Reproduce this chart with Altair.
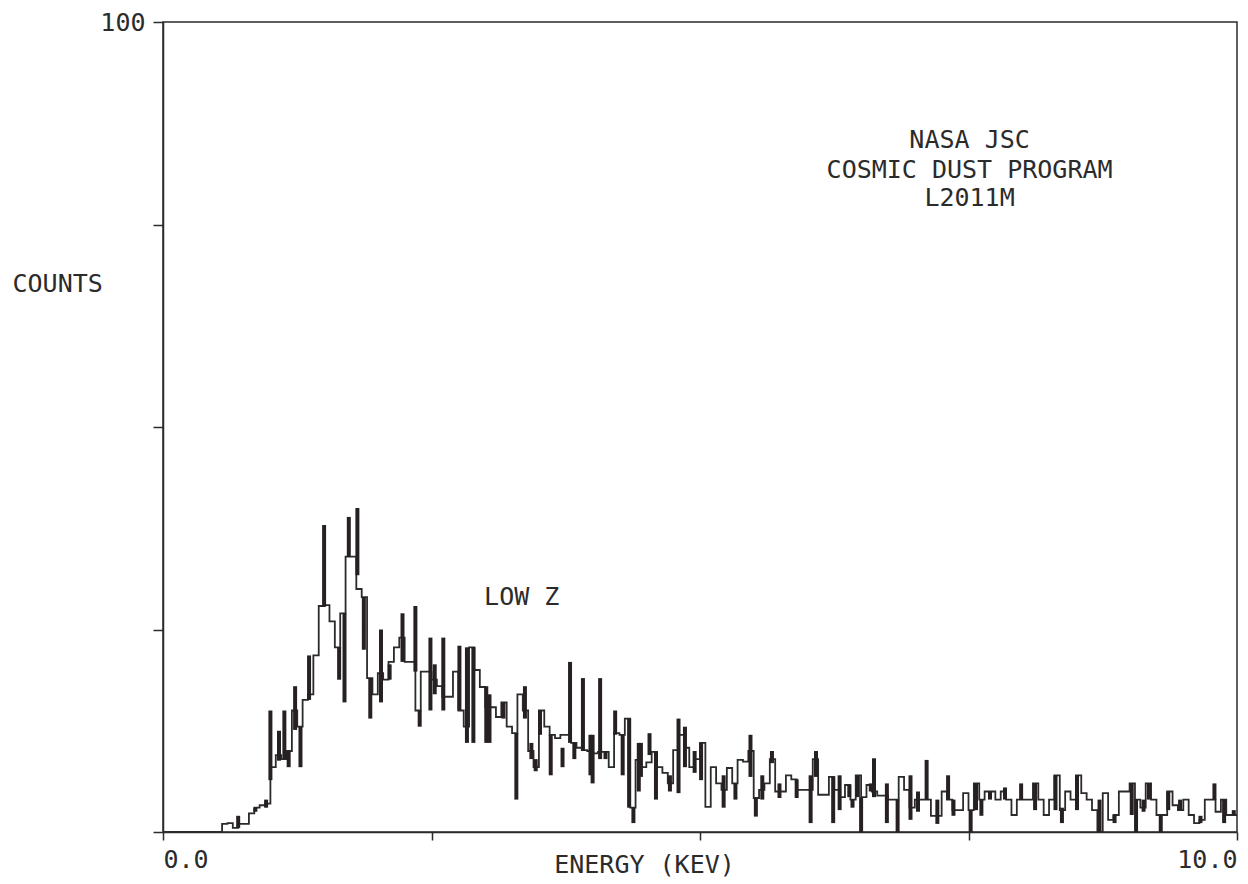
import altair as alt
import pandas as pd

FONT = "DejaVu Sans Mono"
INK = "#2b2b2b"

# Spectrum: counts per 0.05 keV bin, starting at 0.00 keV
BIN_KEV = 0.05
COUNTS = [
    0, 0, 0, 0, 0, 0, 0, 0, 0, 0,
    0, 1, 1.1, 0.5, 1, 1, 2.3, 3, 3.3, 3.5,
    8, 9.5, 9, 10, 15, 13, 16.3, 17, 21.8, 27.9,
    28, 26, 22.8, 27, 34, 34, 30, 29, 19, 17,
    19.6, 18.8, 21, 22.8, 24, 21, 21, 15, 19.8, 19.8,
    18.8, 18, 16.7, 16.7, 19.8, 15, 13, 22.8, 20, 17.9,
    15.4, 15.4, 14.2, 16, 13, 12.2, 17, 15, 10, 8,
    15, 13, 12, 11.6, 12, 12, 11, 10.4, 10.1, 10,
    9.7, 9.9, 9.9, 8, 12.2, 12, 14, 3, 8.9, 8,
    8.6, 9.9, 8, 7.3, 6, 10.1, 12, 10.4, 8, 9,
    11, 3.1, 8, 6, 5.2, 7.9, 6, 8.9, 8.7, 10,
    4.2, 5.2, 6, 9, 5, 5, 7, 6.5, 5.2, 5.2,
    5.2, 9, 4.6, 4.6, 6.8, 5.2, 4.3, 5.8, 4, 7,
    4.3, 5.8, 5, 4.5, 4.5, 4, 4, 6.8, 5.2, 3,
    4, 4, 4, 2, 2, 5, 4, 2.7, 2.7, 4.8,
    2.7, 6, 4, 5, 5, 4, 5, 4, 2.1, 4,
    4, 4, 6, 4, 2.1, 4, 7, 2.7, 5, 4,
    7, 4.8, 4, 2.7, 0, 4.8, 1.5, 2.1, 5, 5,
    6, 4, 3, 6, 4, 2.1, 2.1, 5, 3.3, 2.7,
    4, 2.1, 1.1, 1.5, 4, 4, 2.5, 4, 2.1, 2.1,
]

# Channel-to-channel jitter (dense dark strokes): energy, low and high counts
SPIKE_E = [0.70, 0.86, 0.96, 1.00, 1.08, 1.13, 1.17, 1.23, 1.28, 1.36,
           1.50, 1.64, 1.69, 1.73, 1.81, 1.87, 1.93, 2.03, 2.11, 2.23,
           2.35, 2.39, 2.49, 2.53, 2.61, 2.76, 2.83, 2.89, 3.01, 3.04,
           3.17, 3.29, 3.37, 3.43, 3.47, 3.51, 3.61, 3.72, 3.79, 3.83,
           3.91, 3.98, 4.00, 4.07, 4.12, 4.21, 4.28, 4.34, 4.38, 4.43,
           4.45, 4.53, 4.59, 4.72, 4.80, 4.86, 4.95, 5.01, 5.22, 5.33,
           5.47, 5.52, 5.58, 5.67, 5.74, 5.90, 6.03, 6.08, 6.24, 6.30,
           6.39, 6.42, 6.47, 6.50, 6.59, 6.62, 6.74, 6.84, 6.96, 7.03,
           7.11, 7.21, 7.31, 7.36, 7.52, 7.57, 7.62, 7.70, 7.84, 7.99,
           8.12, 8.31, 8.37, 8.51, 8.72, 8.86, 9.02, 9.06, 9.13, 9.18,
           9.29, 9.36, 9.47, 9.66, 9.79, 9.88, 9.97]
SPIKE_LO = [0.5, 2.5, 3, 6.4, 8.8, 9, 8, 12.6, 8, 16.3,
            27.8, 18.8, 16, 34, 31.7, 22.5, 14, 16, 18.8, 21,
            19.8, 13, 15, 17, 15, 15, 11, 11, 11, 11,
            14, 4, 14, 9, 7.5, 12, 7, 8, 11, 9,
            10, 7, 6, 9, 9, 12, 7, 3, 1.1, 5,
            6.8, 9.5, 4, 5, 4.8, 8, 7.3, 6.4, 3, 4,
            6.8, 1.9, 4, 8.5, 4.2, 4.2, 1.1, 6.8, 1.1, 2.7,
            4.3, 3, 4.3, 0, 5, 4.3, 1.1, 0, 1.5, 2.5,
            4, 1, 4, 2, 0, 2.7, 2, 4, 4, 4,
            2.7, 2.7, 1.1, 2.7, 0, 1.1, 2.1, 0, 2.5, 4,
            0, 2.7, 2.7, 1.1, 4, 1.1, 2.1]
SPIKE_HI = [2, 3, 4, 15, 12.5, 15, 10, 18, 13, 21.8,
            37.9, 22.8, 27, 38.9, 40, 29, 19, 25, 20.7, 27,
            27.9, 15, 24, 20.7, 24, 23, 22.8, 22.8, 18, 17,
            16, 12.2, 18, 11, 9, 15, 12, 10.4, 21, 11,
            19, 12, 12, 19, 10, 15, 12, 14, 3, 11,
            11, 12.2, 9.9, 7, 14, 13, 10, 11, 7, 6,
            12, 4.2, 7, 10, 6, 6.5, 7, 10, 6.8, 7,
            5.8, 4, 7, 4.3, 6, 9.1, 6, 4, 7, 5,
            8.9, 4, 7, 4, 2.7, 6, 4, 5, 5.5, 6,
            6, 7, 3, 7, 4, 2.1, 6, 4, 4, 6,
            2.1, 5, 4, 2, 6, 4, 2.7]

NOTE_TEXT = ["NASA JSC", "COSMIC DUST PROGRAM", "L2011M", "LOW Z"]
NOTE_E = [7.51, 7.51, 7.51, 3.34]
NOTE_C = [85.4, 81.7, 78.3, 29.0]

energy = [round(i * BIN_KEV, 3) for i in range(len(COUNTS))] + [10.0]
counts = COUNTS + [COUNTS[-1]]
spec = pd.DataFrame({"energy": energy, "counts": counts})
spikes = pd.DataFrame({"energy": SPIKE_E, "lo": SPIKE_LO, "hi": SPIKE_HI})
notes = pd.DataFrame({"text": NOTE_TEXT, "energy": NOTE_E, "counts": NOTE_C})

xscale = alt.Scale(domain=[0, 10], nice=False, zero=False)
yscale = alt.Scale(domain=[0, 100], nice=False)

xaxis = alt.Axis(
    values=[0, 2.5, 5, 7.5, 10],
    labelExpr="(datum.value == 0 || datum.value == 10) ? format(datum.value, '.1f') : ''",
    labelFlush=True, labelOverlap=False, grid=False,
    tickSize=8, labelPadding=7, tickColor=INK, domainColor=INK,
    domainWidth=1.5, tickWidth=1.5,
    labelFont=FONT, labelFontSize=25, labelColor=INK,
    title="ENERGY (KEV)", titleX=481, titleY=32, titleAlign="center",
    titleBaseline="middle", titleFont=FONT, titleFontSize=25,
    titleColor=INK, titleFontWeight="normal",
)
yaxis = alt.Axis(
    values=[0, 25, 50, 75, 100],
    labelExpr="datum.value == 100 ? '100' : ''",
    labelOverlap=False, grid=False, tickSize=10, labelPadding=8,
    tickColor=INK, domainColor=INK, domainWidth=1.5, tickWidth=1.5,
    labelBaseline="middle", labelFont=FONT, labelFontSize=25, labelColor=INK,
    title="COUNTS", titleAngle=0, titleX=-151, titleY=261,
    titleAlign="left", titleBaseline="middle", titleFont=FONT,
    titleFontSize=25, titleColor=INK, titleFontWeight="normal",
)

line = alt.Chart(spec).mark_line(
    interpolate="step-after", color=INK, strokeWidth=1.8, clip=True
).encode(
    x=alt.X("energy:Q", scale=xscale, axis=xaxis),
    y=alt.Y("counts:Q", scale=yscale, axis=yaxis),
)

rules = alt.Chart(spikes).mark_rule(color="#262022", strokeWidth=4, clip=True).encode(
    x=alt.X("energy:Q", scale=xscale),
    y=alt.Y("lo:Q", scale=yscale),
    y2="hi:Q",
)

text = alt.Chart(notes).mark_text(
    font=FONT, fontSize=25, color=INK, align="center", baseline="middle"
).encode(
    x=alt.X("energy:Q", scale=xscale),
    y=alt.Y("counts:Q", scale=yscale),
    text="text:N",
)

chart = alt.layer(line, rules, text).properties(
    width=1074, height=810,
    background="white",
    autosize=alt.AutoSizeParams(type="none"),
    padding={"left": 155, "top": 14, "right": 3, "bottom": 49},
).configure_view(
    stroke=INK, strokeWidth=1.5
)

chart.save("out.html", embed_options={"renderer": "svg", "actions": False})
